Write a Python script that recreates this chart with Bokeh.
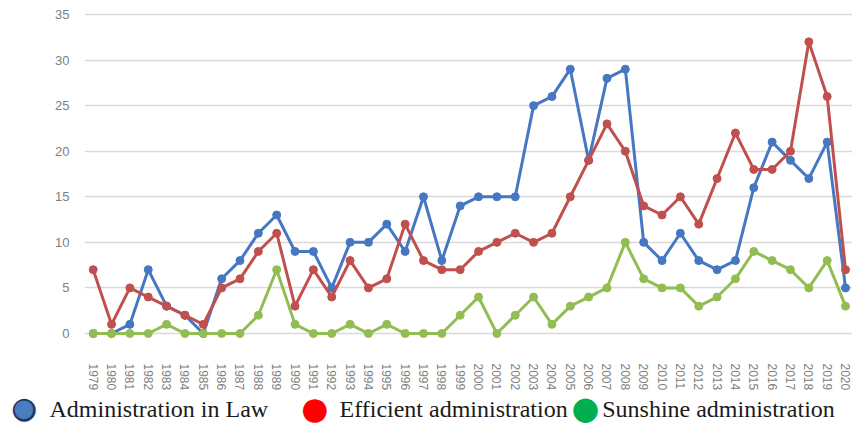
from bokeh.plotting import figure
from bokeh.models import Range1d, FixedTicker, PrintfTickFormatter
from bokeh.core.properties import value
from bokeh.embed import file_html
from bokeh.resources import INLINE

# ---- data ----
years = list(range(1979, 2021))
law = [0, 0, 1, 7, 3, 2, 0, 6, 8, 11, 13, 9, 9, 5, 10, 10, 12, 9, 15, 8, 14,
       15, 15, 15, 25, 26, 29, 19, 28, 29, 10, 8, 11, 8, 7, 8, 16, 21, 19, 17, 21, 5]
efficient = [7, 1, 5, 4, 3, 2, 1, 5, 6, 9, 11, 3, 7, 4, 8, 5, 6, 12, 8, 7, 7,
             9, 10, 11, 10, 11, 15, 19, 23, 20, 14, 13, 15, 12, 17, 22, 18, 18, 20, 32, 26, 7]
sunshine = [0, 0, 0, 0, 1, 0, 0, 0, 0, 2, 7, 1, 0, 0, 1, 0, 1, 0, 0, 0, 2,
            4, 0, 2, 4, 1, 3, 4, 5, 10, 6, 5, 5, 3, 4, 6, 9, 8, 7, 5, 8, 3]
y_ticks = [0, 5, 10, 15, 20, 25, 30, 35]
series_names = ["Administration in Law", "Efficient administration", "Sunshine administration"]
line_colors = ["#4677c2", "#c0504d", "#92bd52"]
legend_colors = ["#4a7cc0", "#ff0000", "#00b050"]

SERIF = "Times New Roman, Liberation Serif, serif"

W, H = 852, 427
BL, BR, BT, BB = 84, 0, 6, 89   # borders around the plotting frame

# ---- main chart ----
p = figure(width=W, height=H,
           x_range=Range1d(1978.526, 2020.38), y_range=Range1d(-0.55, 35.88),
           output_backend="svg", toolbar_location=None,
           min_border_left=BL, min_border_right=BR, min_border_top=BT, min_border_bottom=BB)
p.outline_line_color = None
p.background_fill_color = "white"

for vals, col in zip([law, efficient, sunshine], line_colors):
    p.line(years, vals, line_color=col, line_width=3)
    p.scatter(years, vals, size=8, fill_color=col, line_color=col)

p.xgrid.grid_line_color = None
p.ygrid.grid_line_color = "#d9d9d9"
p.ygrid.grid_line_width = 1.5

p.xaxis.ticker = FixedTicker(ticks=years)
p.xaxis.formatter = PrintfTickFormatter(format="%d")
p.xaxis.major_label_orientation = "vertical"
p.xaxis.major_label_standoff = 19
p.yaxis.ticker = FixedTicker(ticks=y_ticks)
p.yaxis.major_label_standoff = 9
for ax in (p.xaxis, p.yaxis):
    ax.axis_line_color = None
    ax.major_tick_line_color = None
    ax.minor_tick_line_color = None
    ax.major_label_text_color = "#808080"
    ax.major_label_text_font = "Liberation Sans, Arial, sans-serif"
p.xaxis.major_label_text_font_size = "12px"
p.yaxis.major_label_text_font_size = "13px"

# ---- legend row below the axis (pixel coordinate ranges, unclipped overlay) ----
p.extra_x_ranges = {"px": Range1d(BL, W - BR)}
p.extra_y_ranges = {"py": Range1d(BB, H - BT)}

marker_x = [23.5, 314.3, 585.0]
text_x = [49.0, 339.0, 601.7]
row_y = 19
dot_y = 20
DOT = "\u25cf"

# blue swatch: dark rim + blue fill; red and green swatches: plain discs
p.text(x=[marker_x[0]], y=[dot_y], text=[DOT], text_align="center", text_baseline="middle",
       text_font=value("DejaVu Sans"), text_font_size="30px", text_color="#1f3a60",
       x_range_name="px", y_range_name="py", level="overlay")
p.text(x=[marker_x[0]], y=[dot_y], text=[DOT], text_align="center", text_baseline="middle",
       text_font=value("DejaVu Sans"), text_font_size="24px", text_color=legend_colors[0],
       x_range_name="px", y_range_name="py", level="overlay")
p.text(x=[marker_x[1]], y=[dot_y], text=[DOT], text_align="center", text_baseline="middle",
       text_font=value("DejaVu Sans"), text_font_size="31px", text_color=legend_colors[1],
       x_range_name="px", y_range_name="py", level="overlay")
p.text(x=[marker_x[2]], y=[dot_y], text=[DOT], text_align="center", text_baseline="middle",
       text_font=value("DejaVu Sans"), text_font_size="32px", text_color=legend_colors[2],
       x_range_name="px", y_range_name="py", level="overlay")

p.text(x=text_x, y=[row_y] * 3, text=series_names, text_baseline="middle",
       text_align="left", text_font=value(SERIF),
       text_font_size="24px", text_color="#1a1a1a",
       x_range_name="px", y_range_name="py", level="overlay")

open("out.html", "w").write(file_html(p, INLINE))
